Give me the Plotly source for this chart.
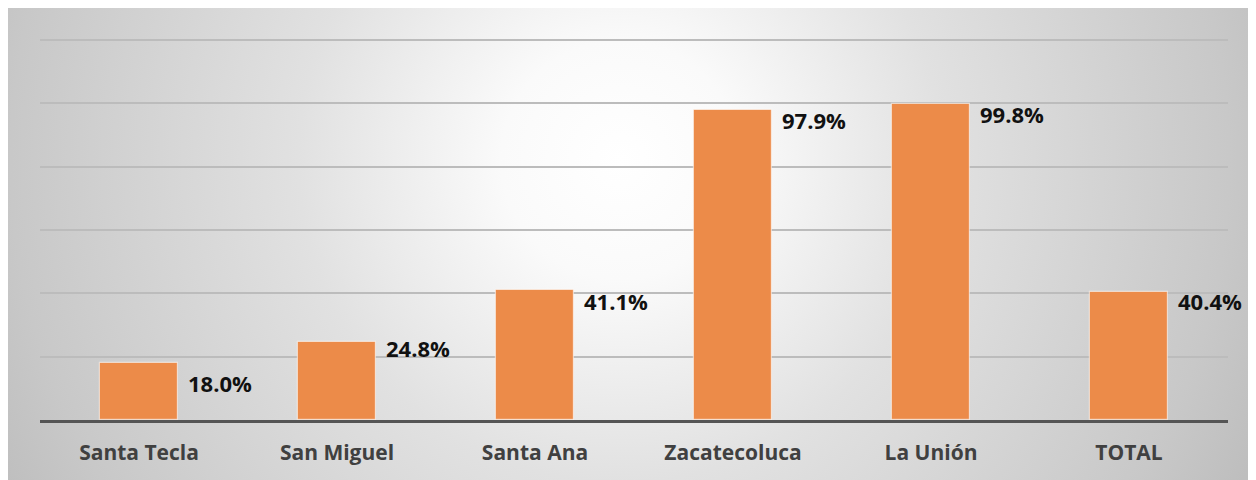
import base64
import plotly.graph_objects as go

# ---- data ----
categories = ["Santa Tecla", "San Miguel", "Santa Ana", "Zacatecoluca", "La Unión", "TOTAL"]
values = [0.180, 0.248, 0.411, 0.979, 0.998, 0.404]
value_labels = ["18.0%", "24.8%", "41.1%", "97.9%", "99.8%", "40.4%"]
grid_ticks = [0.2, 0.4, 0.6, 0.8, 1.0, 1.2]

# ---- layout geometry (figure coords; page adds 8px body margin) ----
W, H = 1256, 480
ML, MT = 32, 29
PW, PH = 1188, 383
MR, MB = W - ML - PW, H - MT - PH
Y_MAX = 1.21

label_dy = [-20, -6, -11, -10, -10, -9]

svg = f'''<svg xmlns="http://www.w3.org/2000/svg" width="{W}" height="{H}" viewBox="0 0 {W} {H}" preserveAspectRatio="none">
<defs><radialGradient id="g" gradientUnits="userSpaceOnUse" cx="612" cy="152" r="700">
<stop offset="0" stop-color="#ffffff"/>
<stop offset="0.17" stop-color="#fafafa"/>
<stop offset="0.46" stop-color="#e1e1e1"/>
<stop offset="0.87" stop-color="#c8c8c8"/>
<stop offset="1" stop-color="#bebebe"/>
</radialGradient></defs>
<rect x="0" y="0" width="{W}" height="{H}" fill="url(#g)"/>
</svg>'''
svg_uri = "data:image/svg+xml;base64," + base64.b64encode(svg.encode()).decode()

fig = go.Figure()
fig.add_trace(go.Bar(
    x=categories, y=values, width=0.394,
    marker=dict(color="#EC8B49", line=dict(color="rgba(255,255,255,0.55)", width=1.2)),
    hoverinfo="skip",
))

for c, v, t, dy in zip(categories, values, value_labels, label_dy):
    fig.add_annotation(x=c, y=v, text=f"<b>{t}</b>", showarrow=False,
                       xanchor="left", yanchor="middle", xshift=47, yshift=dy,
                       font=dict(family="Open Sans", size=22, color="#111111"))

fig.add_layout_image(dict(
    source=svg_uri, xref="paper", yref="paper",
    x=-ML / PW, y=1 + MT / PH,
    sizex=W / PW, sizey=H / PH,
    xanchor="left", yanchor="top", sizing="stretch", layer="below",
))

fig.update_layout(
    width=W, height=H,
    margin=dict(l=ML, r=MR, t=MT, b=MB),
    paper_bgcolor="white", plot_bgcolor="rgba(0,0,0,0)",
    showlegend=False,
    bargap=0.0,
)
fig.update_xaxes(
    range=[-0.5, len(categories) - 0.5],
    showline=True, linecolor="#555555", linewidth=3,
    tickfont=dict(family="Open Sans", size=21, color="#404040", weight="bold"),
    ticks="", ticklabelstandoff=12, showgrid=False,
)
fig.update_yaxes(
    range=[0, Y_MAX], tickvals=grid_ticks, showticklabels=False,
    showgrid=True, gridcolor="#bcbcbc", gridwidth=1.5, zeroline=False,
)

fig.write_html("out.html")
